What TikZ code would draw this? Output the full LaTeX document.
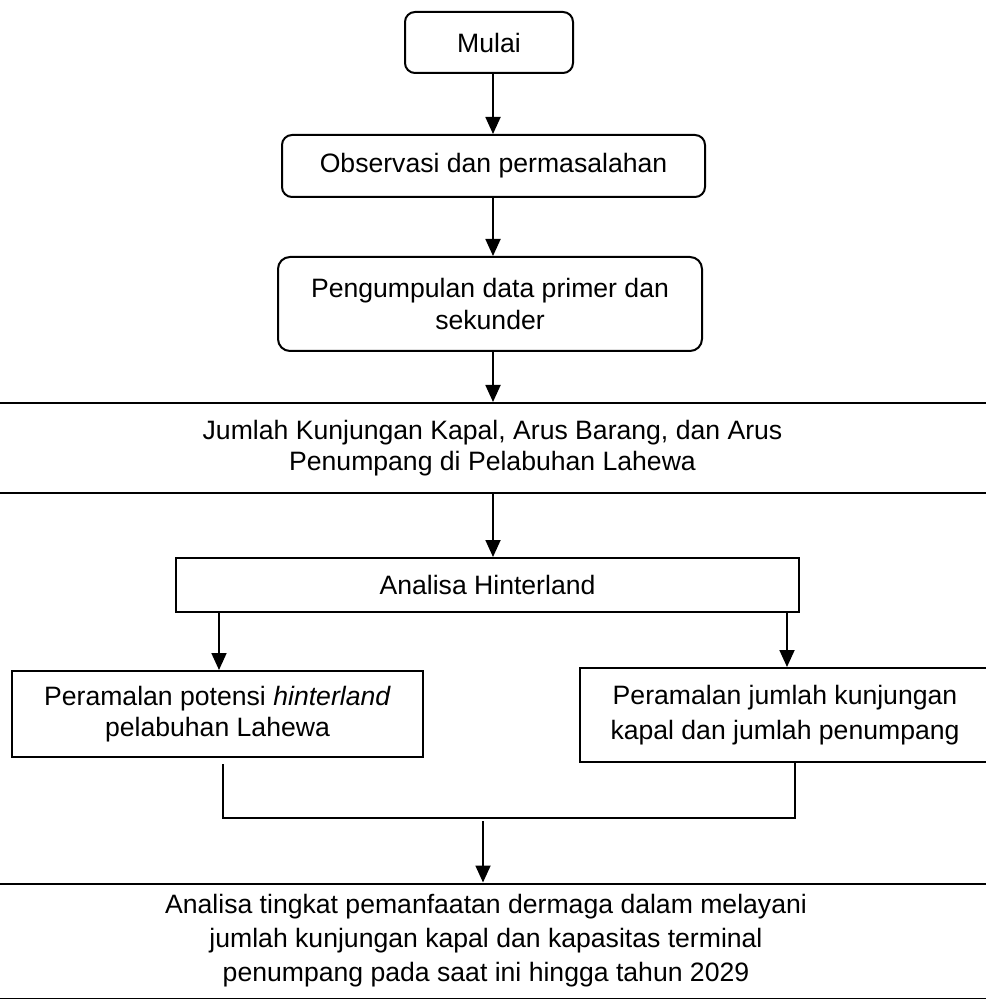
\documentclass[tikz,border=0pt]{standalone}
\usepackage{fontspec}
\setmainfont{Liberation Sans}
\usetikzlibrary{arrows.meta}
\begin{document}
\begin{tikzpicture}[x=0.5pt,y=-0.5pt,
  every node/.style={font=\fontsize{13.3}{15.8}\selectfont, align=center, inner sep=0pt},
  rbox/.style={draw, line width=1pt, rounded corners=5pt},
  sbox/.style={draw, line width=1pt},
  arr/.style={line width=0.9pt, -{Triangle[length=8.5pt,width=7.5pt]}},
  conn/.style={line width=0.9pt}]
\useasboundingbox (0,0) rectangle (985,999);
\node[rbox, minimum width=84pt, minimum height=30.5pt] (mulai) at (489,42.5) {Mulai};
\node[rbox, minimum width=211.5pt, minimum height=31pt] (obs) at (493.5,166) {Observasi dan permasalahan};
\node[rbox, rounded corners=6pt, minimum width=212pt, minimum height=47pt] (peng) at (490,304) {Pengumpulan data primer dan\\sekunder};
\node[sbox, minimum width=512.5pt, minimum height=45pt] (jumlah) at (492.5,448) {Jumlah Kunjungan Kapal, Arus Barang, dan Arus\\Penumpang di Pelabuhan Lahewa};
\node[sbox, minimum width=311.5pt, minimum height=27pt] (analisa) at (487.5,585) {Analisa Hinterland};
\node[sbox, minimum width=205.5pt, minimum height=43pt] (potensi) at (217.5,714) {Peramalan potensi \textit{hinterland}\\pelabuhan Lahewa};
\node[sbox, minimum width=205pt, minimum height=47pt, font=\fontsize{13.3}{17.5}\selectfont] (ramal) at (785,715) {Peramalan jumlah kunjungan\\kapal dan jumlah penumpang};
\node[sbox, minimum width=516pt, minimum height=57.5pt, font=\fontsize{13.3}{17}\selectfont] (final) at (486,941) {Analisa tingkat pemanfaatan dermaga dalam melayani\\jumlah kunjungan kapal dan kapasitas terminal\\penumpang pada saat ini hingga tahun 2029};
\coordinate (cx) at (493,0);
\coordinate (lx) at (219,0);
\coordinate (rx) at (787,0);
\coordinate (ml) at (223,818);
\coordinate (mr) at (795,818);
\coordinate (fx) at (483,821);
\draw[arr] (mulai.south -| cx) -- (obs.north -| cx);
\draw[arr] (obs.south -| cx) -- (peng.north -| cx);
\draw[arr] (peng.south -| cx) -- (jumlah.north -| cx);
\draw[arr] (jumlah.south -| cx) -- (analisa.north -| cx);
\draw[arr] (analisa.south -| lx) -- (potensi.north -| lx);
\draw[arr] (analisa.south -| rx) -- (ramal.north -| rx);
\draw[conn] ([yshift=-3pt]potensi.south -| ml) -- (ml) -- (mr) -- (ramal.south -| mr);
\draw[arr] (fx) -- (final.north -| fx);
\end{tikzpicture}
\end{document}
